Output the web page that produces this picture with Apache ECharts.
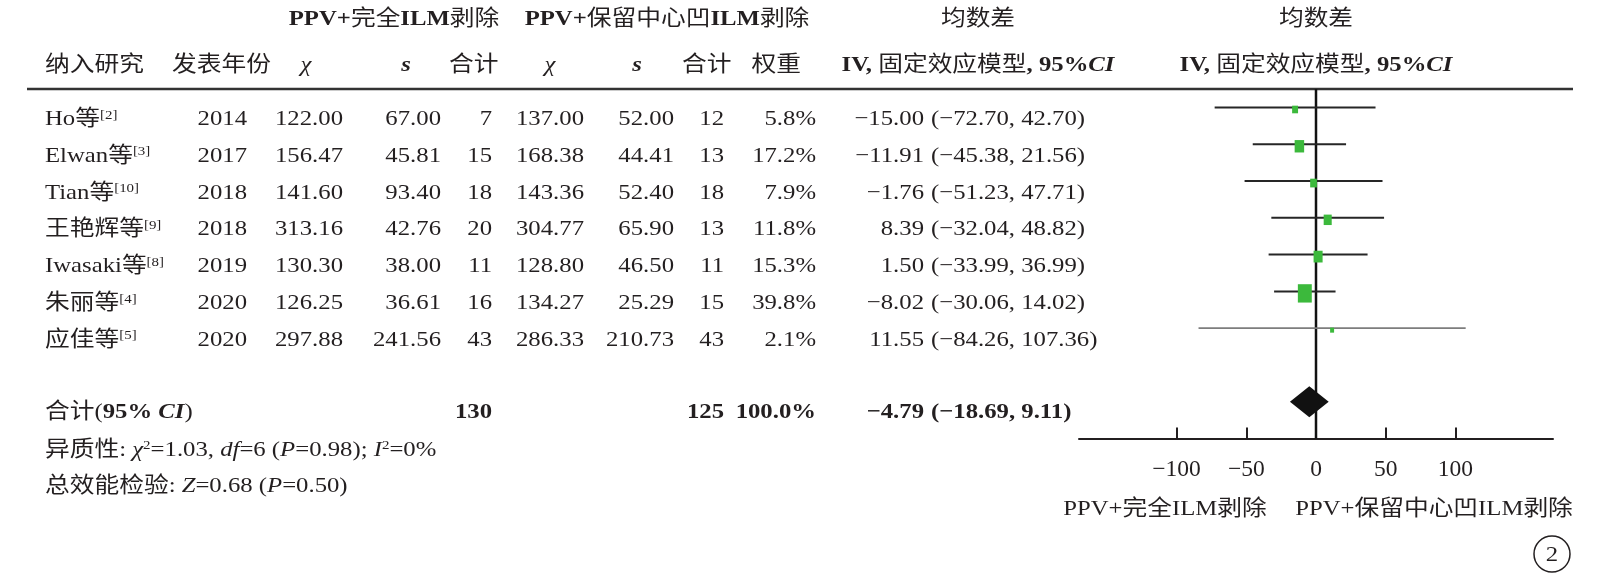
<!DOCTYPE html>
<html>
<head>
<meta charset="utf-8">
<script src="https://cdn.jsdelivr.net/npm/echarts@6.0.0/dist/echarts.min.js"></script>
<style>
  html, body { margin: 0; padding: 0; background: #fff; }
  #main { width: 1600px; height: 574px; }
</style>
</head>
<body>
<div id="main"></div>
<script>
// Included studies and their reference numbers
const studies = ['Ho等', 'Elwan等', 'Tian等', '王艳辉等', 'Iwasaki等', '朱丽等', '应佳等'];
const refs = ['2', '3', '10', '9', '8', '4', '5'];
const years = [2014, 2017, 2018, 2018, 2019, 2020, 2020];

// PPV + complete ILM peeling arm
const meanA = [122.00, 156.47, 141.60, 313.16, 130.30, 126.25, 297.88];
const sdA = [67.00, 45.81, 93.40, 42.76, 38.00, 36.61, 241.56];
const nA = [7, 15, 18, 20, 11, 16, 43];

// PPV + fovea-sparing ILM peeling arm
const meanB = [137.00, 168.38, 143.36, 304.77, 128.80, 134.27, 286.33];
const sdB = [52.00, 44.41, 52.40, 65.90, 46.50, 25.29, 210.73];
const nB = [12, 13, 18, 13, 11, 15, 43];

// Weights (%) and mean differences with 95% CI
const weights = [5.8, 17.2, 7.9, 11.8, 15.3, 39.8, 2.1];
const meanDiff = [-15.00, -11.91, -1.76, 8.39, 1.50, -8.02, 11.55];
const ciLow = [-72.70, -45.38, -51.23, -32.04, -33.99, -30.06, -84.26];
const ciHigh = [42.70, 21.56, 47.71, 48.82, 36.99, 14.02, 107.36];

// Pooled estimate
const totalA = 130;
const totalB = 125;
const totalWeight = 100.0;
const pooledMD = -4.79;
const pooledLow = -18.69;
const pooledHigh = 9.11;

// Axis tick values
const xTicks = [-100, -50, 0, 50, 100];

const INK = '#231f20';
const SERIF = '"Liberation Serif", "Times New Roman", "Noto Sans CJK SC", serif';
const FS = 21.5;      // body text size
const SX = 1.15;      // horizontal stretch of the typeset text
const POOLED_ROW = 8;
const AXIS_ROW = 9;

const minus = v => (v < 0 ? '\u2212' : '') + Math.abs(v).toFixed(2);

const chart = echarts.init(document.getElementById('main'), null, { renderer: 'canvas' });

function renderStudy(params, api) {
  const row = api.value(3);
  const lo = api.coord([api.value(0), row]);
  const hi = api.coord([api.value(1), row]);
  const c = api.coord([api.value(2), row]);
  const w = api.value(4);
  const bw = 1 + 2.05 * Math.sqrt(w);
  const bh = 1 + 2.75 * Math.sqrt(w);
  const faint = params.dataIndex === studies.length - 1;
  return {
    type: 'group',
    children: [
      { type: 'line', shape: { x1: lo[0], y1: lo[1], x2: hi[0], y2: hi[1] },
        style: { stroke: faint ? '#7d7d7d' : '#262626', lineWidth: faint ? 1.6 : 2 } },
      { type: 'rect', shape: { x: c[0] - bw / 2, y: c[1] + 2 - bh / 2, width: bw, height: bh },
        style: { fill: '#3cb93c' } }
    ]
  };
}

function renderPooled(params, api) {
  const row = api.value(3);
  const l = api.coord([api.value(0), row]);
  const r = api.coord([api.value(1), row]);
  const m = api.coord([api.value(2), row]);
  const h = 15.5;
  return {
    type: 'polygon',
    shape: { points: [[l[0], l[1]], [m[0], m[1] - h], [r[0], r[1]], [m[0], m[1] + h]] },
    style: { fill: '#111' }
  };
}

chart.setOption({
  animation: false,
  grid: { left: 1079, right: 47, top: 89.1, height: 349.4 },
  xAxis: {
    type: 'value', min: -170, max: 170, position: 'bottom',
    axisLine: { show: true, onZero: false, lineStyle: { color: INK, width: 2 } },
    axisTick: { show: true, inside: true, length: 11, customValues: xTicks, lineStyle: { color: INK, width: 2 } },
    axisLabel: {
      customValues: xTicks, margin: 20, fontSize: 23.5, fontFamily: SERIF, color: INK,
      formatter: v => (v < 0 ? '\u2212' : '') + Math.abs(v)
    },
    splitLine: { show: false }
  },
  yAxis: { type: 'value', min: -0.5, max: AXIS_ROW, inverse: true, show: false },
  series: [
    { type: 'line', data: [[0, -0.5], [0, AXIS_ROW]], symbol: 'none', silent: true, z: 1,
      lineStyle: { color: '#111', width: 2.5 } },
    { type: 'custom', renderItem: renderStudy, z: 3,
      data: studies.map((s, i) => [ciLow[i], ciHigh[i], meanDiff[i], i, weights[i]]) },
    { type: 'custom', renderItem: renderPooled, z: 4,
      data: [[pooledLow, pooledHigh, pooledMD, POOLED_ROW]] }
  ]
});

// ---- table text laid out beside the plot ----
const base = { fontSize: FS, fontFamily: SERIF, fill: INK };
const RICH = {
  sup: Object.assign({}, base, { fontSize: 13, verticalAlign: 'top' }),
  i: Object.assign({}, base, { fontStyle: 'italic' }),
  b: Object.assign({}, base, { fontWeight: 'bold' }),
  bi: Object.assign({}, base, { fontWeight: 'bold', fontStyle: 'italic' })
};

function T(x, y, text, align) {
  return {
    type: 'text', x: x, y: y, scaleX: SX, silent: true,
    style: Object.assign({}, base, { text: text, rich: RICH, align: align || 'left', verticalAlign: 'middle' })
  };
}

const COL = { name: 45, year: 247, meanA: 343, sdA: 441, nA: 492, meanB: 584, sdB: 674, nB: 724,
              weight: 816, est: 924, ci: 931 };
const rowY = r => chart.convertToPixel({ gridIndex: 0 }, [0, r])[1];
const TEXT_DROP = 12;

const els = [];
const topY = rowY(-0.5);
els.push({ type: 'line', silent: true, shape: { x1: 27, y1: topY, x2: 1573, y2: topY },
           style: { stroke: '#333', lineWidth: 2.5 } });

// header lines
const h1 = 19.5, h2 = 65;
els.push(T(394, h1, '{b|PPV+}完全{b|ILM}剥除', 'center'));
els.push(T(667, h1, '{b|PPV+}保留中心凹{b|ILM}剥除', 'center'));
els.push(T(978, h1, '均数差', 'center'));
els.push(T(1316, h1, '均数差', 'center'));
els.push(T(45, h2, '纳入研究'));
els.push(T(172, h2, '发表年份'));
els.push(T(306, h2, '{i|χ}', 'center'));
els.push(T(406, h2, '{bi|s}', 'center'));
els.push(T(449, h2, '合计'));
els.push(T(550, h2, '{i|χ}', 'center'));
els.push(T(637, h2, '{bi|s}', 'center'));
els.push(T(682, h2, '合计'));
els.push(T(801, h2, '权重', 'right'));
els.push(T(978, h2, '{b|IV,} 固定效应模型{b|, 95%}{bi|CI}', 'center'));
els.push(T(1316, h2, '{b|IV,} 固定效应模型{b|, 95%}{bi|CI}', 'center'));

// study rows
studies.forEach((s, i) => {
  const y = rowY(i) + TEXT_DROP;
  els.push(T(COL.name, y, s + '{sup|[' + refs[i] + ']}'));
  els.push(T(COL.year, y, String(years[i]), 'right'));
  els.push(T(COL.meanA, y, meanA[i].toFixed(2), 'right'));
  els.push(T(COL.sdA, y, sdA[i].toFixed(2), 'right'));
  els.push(T(COL.nA, y, String(nA[i]), 'right'));
  els.push(T(COL.meanB, y, meanB[i].toFixed(2), 'right'));
  els.push(T(COL.sdB, y, sdB[i].toFixed(2), 'right'));
  els.push(T(COL.nB, y, String(nB[i]), 'right'));
  els.push(T(COL.weight, y, weights[i].toFixed(1) + '%', 'right'));
  els.push(T(COL.est, y, minus(meanDiff[i]), 'right'));
  els.push(T(COL.ci, y, '(' + minus(ciLow[i]) + ', ' + minus(ciHigh[i]) + ')'));
});

// pooled row
const py = rowY(POOLED_ROW) + 10.5;
els.push(T(COL.name, py, '合计({b|95% }{bi|CI})'));
els.push(T(COL.nA, py, '{b|' + totalA + '}', 'right'));
els.push(T(COL.nB, py, '{b|' + totalB + '}', 'right'));
els.push(T(COL.weight, py, '{b|' + totalWeight.toFixed(1) + '%}', 'right'));
els.push(T(COL.est, py, '{b|' + minus(pooledMD) + '}', 'right'));
els.push(T(COL.ci, py, '{b|(' + minus(pooledLow) + ', ' + minus(pooledHigh) + ')}'));

// heterogeneity and overall effect
els.push(T(COL.name, 450, '异质性: {i|χ}{sup|2}=1.03, {i|df}=6 ({i|P}=0.98); {i|I}{sup|2}=0%'));
els.push(T(COL.name, 486, '总效能检验: {i|Z}=0.68 ({i|P}=0.50)'));

// direction labels under the axis
els.push(T(1165, 509, 'PPV+完全ILM剥除', 'center'));
els.push(T(1434, 509, 'PPV+保留中心凹ILM剥除', 'center'));

// panel number
els.push({ type: 'circle', silent: true, shape: { cx: 1552, cy: 554, r: 18 },
           style: { fill: 'none', stroke: INK, lineWidth: 1.5 } });
els.push(T(1552, 555, '2', 'center'));

chart.setOption({ graphic: { elements: els } });
</script>
</body>
</html>
